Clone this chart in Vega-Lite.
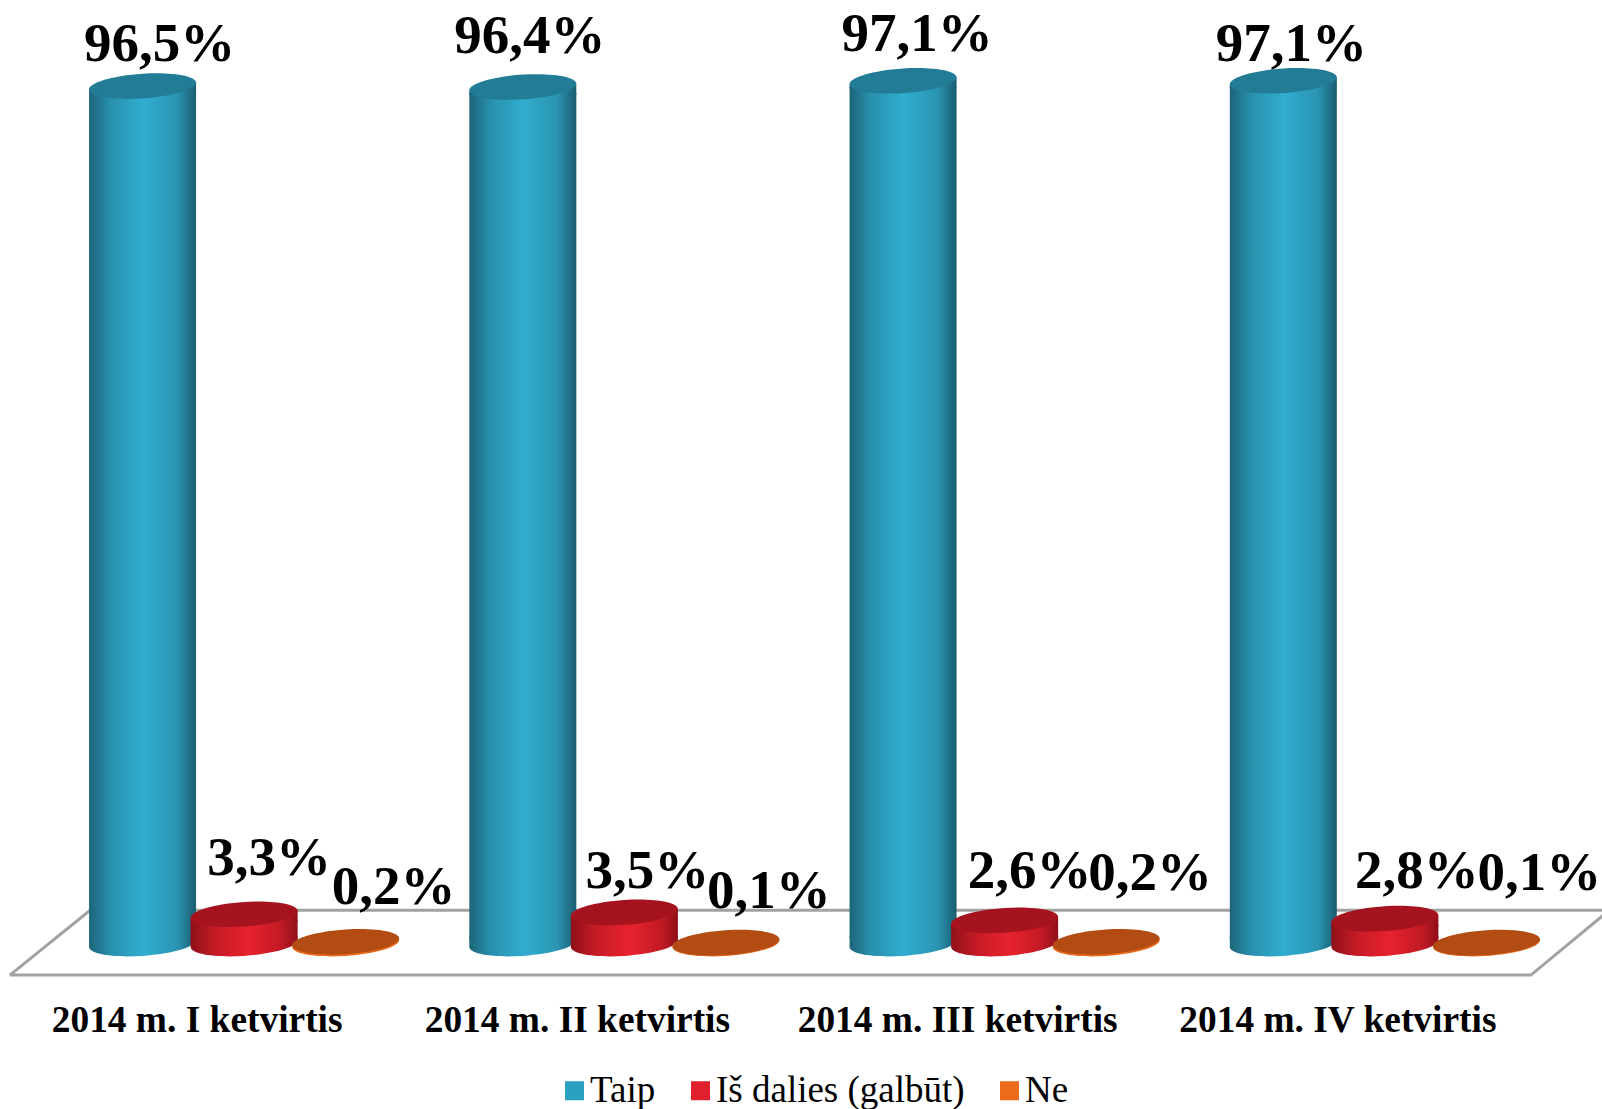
{"$schema":"https://vega.github.io/schema/vega-lite/v6.json","autosize":"none","width":1521,"height":933,"padding":{"left":54,"top":55,"right":27,"bottom":121},"background":"white",
"data":{"values":[
{"quarter":"2014 m. I ketvirtis","series":"Taip","value":96.5,"label":"96,5%"},
{"quarter":"2014 m. I ketvirtis","series":"Iš dalies (galbūt)","value":3.3,"label":"3,3%"},
{"quarter":"2014 m. I ketvirtis","series":"Ne","value":0.2,"label":"0,2%"},
{"quarter":"2014 m. II ketvirtis","series":"Taip","value":96.4,"label":"96,4%"},
{"quarter":"2014 m. II ketvirtis","series":"Iš dalies (galbūt)","value":3.5,"label":"3,5%"},
{"quarter":"2014 m. II ketvirtis","series":"Ne","value":0.1,"label":"0,1%"},
{"quarter":"2014 m. III ketvirtis","series":"Taip","value":97.1,"label":"97,1%"},
{"quarter":"2014 m. III ketvirtis","series":"Iš dalies (galbūt)","value":2.6,"label":"2,6%"},
{"quarter":"2014 m. III ketvirtis","series":"Ne","value":0.2,"label":"0,2%"},
{"quarter":"2014 m. IV ketvirtis","series":"Taip","value":97.1,"label":"97,1%"},
{"quarter":"2014 m. IV ketvirtis","series":"Iš dalies (galbūt)","value":2.8,"label":"2,8%"},
{"quarter":"2014 m. IV ketvirtis","series":"Ne","value":0.1,"label":"0,1%"}]},
"resolve":{"scale":{"x":"independent"}},
"layer":[
{"data":{"values":[{"fx":-0.116,"fy":-3.55,"i":1},{"fx":3.884,"fy":-3.55,"i":2},{"fx":4.09,"fy":3.75,"i":3},{"fx":0.095,"fy":3.75,"i":4},{"fx":-0.116,"fy":-3.55,"i":5}]},
"mark":{"type":"line","stroke":"#a2a2a2","strokeWidth":3,"clip":false},
"encoding":{"x":{"field":"fx","type":"quantitative","scale":{"domain":[0,4],"nice":false,"zero":false},"axis":null},"y":{"field":"fy","type":"quantitative","scale":{"domain":[-5,100]},"axis":null},"order":{"field":"i"}}},
{"encoding":{"x":{"field":"quarter","type":"nominal","scale":{"paddingInner":0,"paddingOuter":0},"axis":{"title":null,"labelAngle":0,"ticks":false,"domain":false,"labelFont":"Liberation Serif","labelFontWeight":"bold","labelFontSize":37.4,"labelColor":"#000000","labelOffset":-47,"labelPadding":13,"labelBaseline":"top","labelLimit":0}},
"xOffset":{"field":"series","type":"nominal","scale":{"domain":["Taip","Iš dalies (galbūt)","Ne"],"paddingInner":0,"paddingOuter":0.372}},
"y":{"field":"value","type":"quantitative","scale":{"domain":[-5,100]},"axis":null}},
"layer":[
{"mark":{"type":"point","opacity":0,"filled":true},"encoding":{"color":{"field":"series","type":"nominal","scale":{"domain":["Taip","Iš dalies (galbūt)","Ne"],"range":["#2ba1c2","#e0202c","#eb6a1c"]},"legend":{"title":null,"orient":"none","direction":"horizontal","columns":3,"legendX":502,"legendY":1017,"symbolType":"square","symbolSize":361,"symbolOpacity":1,"symbolStrokeWidth":0,"labelFont":"Liberation Serif","labelFontSize":37,"labelColor":"#000000","labelOffset":-3,"columnPadding":26,"labelLimit":0}}}},

{"transform":[{"filter":"datum.series==='Taip'"}],"mark":{"type":"point","filled":true,"strokeWidth":0,"opacity":1,"size":11449,"shape":"M -1 -0.15 L 1 -0.15 L 1 -0.065 A 1.0022 0.2306 -3.9 0 1 -1 0.065 Z","fill":{"gradient":"linear","stops":[{"offset":0,"color":"#1d6579"},{"offset":0.2,"color":"#2890ad"},{"offset":0.5,"color":"#31adcf"},{"offset":0.82,"color":"#2a95b3"},{"offset":1,"color":"#1b5c70"}]}},"encoding":{"y":{"datum":0,"type":"quantitative","scale":{"domain":[-5,100]},"axis":null}}},
{"transform":[{"filter":"datum.series==='Taip'"}],"mark":{"type":"bar","width":107,"yOffset":6,"y2Offset":-5,"fill":{"gradient":"linear","stops":[{"offset":0,"color":"#1d6579"},{"offset":0.2,"color":"#2890ad"},{"offset":0.5,"color":"#31adcf"},{"offset":0.82,"color":"#2a95b3"},{"offset":1,"color":"#1b5c70"}]}},"encoding":{"y2":{"datum":0}}},
{"transform":[{"filter":"datum.series==='Taip'"}],"mark":{"type":"point","filled":true,"strokeWidth":0,"opacity":1,"size":11449,"shape":"M -1 0.065 L 1 -0.065 L 1 0.15 L -1 0.15 Z","fill":{"gradient":"linear","stops":[{"offset":0,"color":"#1d6579"},{"offset":0.2,"color":"#2890ad"},{"offset":0.5,"color":"#31adcf"},{"offset":0.82,"color":"#2a95b3"},{"offset":1,"color":"#1b5c70"}]}}},
{"transform":[{"filter":"datum.series==='Taip'"}],"mark":{"type":"point","filled":true,"strokeWidth":0,"opacity":1,"size":11449,"color":"#227c96","shape":"M -1 0.065 A 1.0022 0.2306 -3.9 1 1 1 -0.065 A 1.0022 0.2306 -3.9 1 1 -1 0.065 Z"}},

{"transform":[{"filter":"datum.series==='Iš dalies (galbūt)'"}],"mark":{"type":"point","filled":true,"strokeWidth":0,"opacity":1,"size":11449,"shape":"M -1 -0.15 L 1 -0.15 L 1 -0.065 A 1.0022 0.2306 -3.9 0 1 -1 0.065 Z","fill":{"gradient":"linear","stops":[{"offset":0,"color":"#8f1019"},{"offset":0.25,"color":"#c81c26"},{"offset":0.55,"color":"#e8222e"},{"offset":0.85,"color":"#c01a24"},{"offset":1,"color":"#8f1019"}]}},"encoding":{"y":{"datum":0,"type":"quantitative","scale":{"domain":[-5,100]},"axis":null}}},
{"transform":[{"filter":"datum.series==='Iš dalies (galbūt)'"}],"mark":{"type":"bar","width":107,"yOffset":6,"y2Offset":-5,"fill":{"gradient":"linear","stops":[{"offset":0,"color":"#8f1019"},{"offset":0.25,"color":"#c81c26"},{"offset":0.55,"color":"#e8222e"},{"offset":0.85,"color":"#c01a24"},{"offset":1,"color":"#8f1019"}]}},"encoding":{"y2":{"datum":0}}},
{"transform":[{"filter":"datum.series==='Iš dalies (galbūt)'"}],"mark":{"type":"point","filled":true,"strokeWidth":0,"opacity":1,"size":11449,"shape":"M -1 0.065 L 1 -0.065 L 1 0.15 L -1 0.15 Z","fill":{"gradient":"linear","stops":[{"offset":0,"color":"#8f1019"},{"offset":0.25,"color":"#c81c26"},{"offset":0.55,"color":"#e8222e"},{"offset":0.85,"color":"#c01a24"},{"offset":1,"color":"#8f1019"}]}}},
{"transform":[{"filter":"datum.series==='Iš dalies (galbūt)'"}],"mark":{"type":"point","filled":true,"strokeWidth":0,"opacity":1,"size":11449,"color":"#a5141e","shape":"M -1 0.065 A 1.0022 0.2306 -3.9 1 1 1 -0.065 A 1.0022 0.2306 -3.9 1 1 -1 0.065 Z"}},

{"transform":[{"filter":"datum.series==='Ne'"}],"mark":{"type":"point","filled":true,"strokeWidth":0,"opacity":1,"size":11449,"color":"#eb6a1c","shape":"M -1 0.065 A 1.0022 0.2306 -3.9 1 1 1 -0.065 A 1.0022 0.2306 -3.9 1 1 -1 0.065 Z"},"encoding":{"y":{"datum":0,"type":"quantitative","scale":{"domain":[-5,100]},"axis":null}}},
{"transform":[{"filter":"datum.series==='Ne'"}],"mark":{"type":"point","filled":true,"strokeWidth":0,"opacity":1,"size":11449,"color":"#b24c12","shape":"M -1 0.065 A 1.0022 0.2306 -3.9 1 1 1 -0.065 A 1.0022 0.2306 -3.9 1 1 -1 0.065 Z"}},

{"transform":[{"filter":"datum.quarter==='2014 m. I ketvirtis'&&datum.series==='Taip'"}],"mark":{"type":"text","font":"Liberation Serif","fontWeight":"bold","fontSize":55,"color":"#000000","baseline":"alphabetic","dx":17,"dy":-25},"encoding":{"text":{"field":"label"}}},
{"transform":[{"filter":"datum.quarter==='2014 m. II ketvirtis'&&datum.series==='Taip'"}],"mark":{"type":"text","font":"Liberation Serif","fontWeight":"bold","fontSize":55,"color":"#000000","baseline":"alphabetic","dx":7,"dy":-34},"encoding":{"text":{"field":"label"}}},
{"transform":[{"filter":"datum.quarter==='2014 m. III ketvirtis'&&datum.series==='Taip'"}],"mark":{"type":"text","font":"Liberation Serif","fontWeight":"bold","fontSize":55,"color":"#000000","baseline":"alphabetic","dx":14,"dy":-30},"encoding":{"text":{"field":"label"}}},
{"transform":[{"filter":"datum.quarter==='2014 m. IV ketvirtis'&&datum.series==='Taip'"}],"mark":{"type":"text","font":"Liberation Serif","fontWeight":"bold","fontSize":55,"color":"#000000","baseline":"alphabetic","dx":8,"dy":-20},"encoding":{"text":{"field":"label"}}},
{"transform":[{"filter":"datum.quarter==='2014 m. I ketvirtis'&&datum.series==='Iš dalies (galbūt)'"}],"mark":{"type":"text","font":"Liberation Serif","fontWeight":"bold","fontSize":55,"color":"#000000","baseline":"alphabetic","dx":25,"dy":-39},"encoding":{"text":{"field":"label"}}},
{"transform":[{"filter":"datum.quarter==='2014 m. II ketvirtis'&&datum.series==='Iš dalies (galbūt)'"}],"mark":{"type":"text","font":"Liberation Serif","fontWeight":"bold","fontSize":55,"color":"#000000","baseline":"alphabetic","dx":23,"dy":-24},"encoding":{"text":{"field":"label"}}},
{"transform":[{"filter":"datum.quarter==='2014 m. III ketvirtis'&&datum.series==='Iš dalies (galbūt)'"}],"mark":{"type":"text","font":"Liberation Serif","fontWeight":"bold","fontSize":55,"color":"#000000","baseline":"alphabetic","dx":25,"dy":-32},"encoding":{"text":{"field":"label"}}},
{"transform":[{"filter":"datum.quarter==='2014 m. IV ketvirtis'&&datum.series==='Iš dalies (galbūt)'"}],"mark":{"type":"text","font":"Liberation Serif","fontWeight":"bold","fontSize":55,"color":"#000000","baseline":"alphabetic","dx":32,"dy":-31},"encoding":{"text":{"field":"label"}}},
{"transform":[{"filter":"datum.quarter==='2014 m. I ketvirtis'&&datum.series==='Ne'"}],"mark":{"type":"text","font":"Liberation Serif","fontWeight":"bold","fontSize":55,"color":"#000000","baseline":"alphabetic","dx":48,"dy":-38},"encoding":{"text":{"field":"label"}}},
{"transform":[{"filter":"datum.quarter==='2014 m. II ketvirtis'&&datum.series==='Ne'"}],"mark":{"type":"text","font":"Liberation Serif","fontWeight":"bold","fontSize":55,"color":"#000000","baseline":"alphabetic","dx":43,"dy":-35},"encoding":{"text":{"field":"label"}}},
{"transform":[{"filter":"datum.quarter==='2014 m. III ketvirtis'&&datum.series==='Ne'"}],"mark":{"type":"text","font":"Liberation Serif","fontWeight":"bold","fontSize":55,"color":"#000000","baseline":"alphabetic","dx":44,"dy":-52},"encoding":{"text":{"field":"label"}}},
{"transform":[{"filter":"datum.quarter==='2014 m. IV ketvirtis'&&datum.series==='Ne'"}],"mark":{"type":"text","font":"Liberation Serif","fontWeight":"bold","fontSize":55,"color":"#000000","baseline":"alphabetic","dx":53,"dy":-53},"encoding":{"text":{"field":"label"}}}
]}
],
"config":{"view":{"stroke":null}}}
